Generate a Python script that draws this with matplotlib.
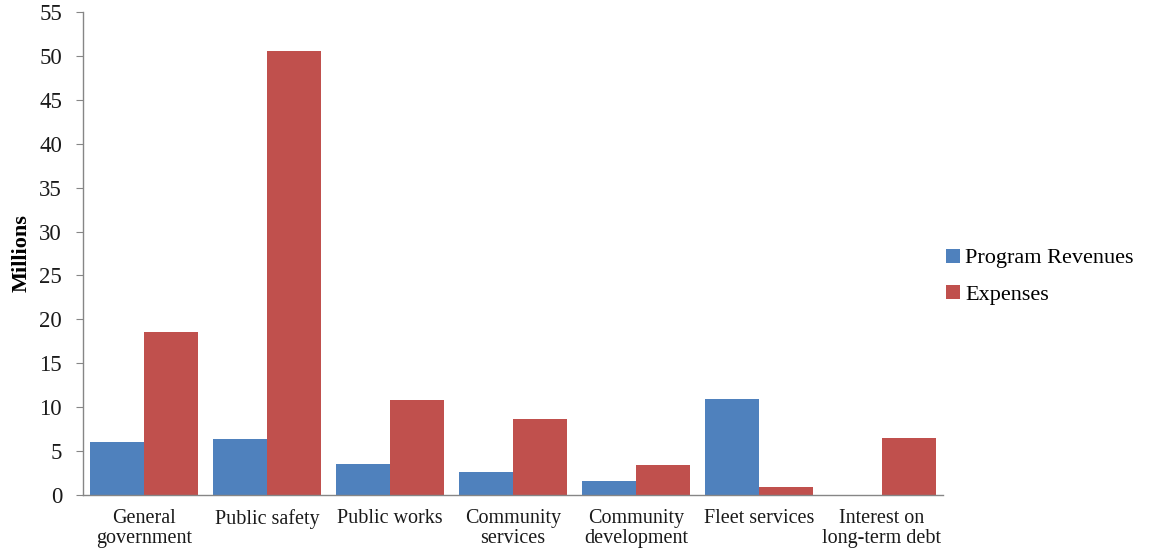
import numpy as np
import matplotlib.pyplot as plt

categories = ["General\ngovernment", "Public safety", "Public works", "Community\nservices",
              "Community\ndevelopment", "Fleet services", "Interest on\nlong-term debt"]
program_revenues = [6.0, 6.35, 3.55, 2.6, 1.6, 10.9, 0.0]
expenses = [18.6, 50.6, 10.8, 8.65, 3.4, 0.9, 6.45]

plt.rcParams['font.family'] = ['Liberation Serif', 'DejaVu Serif']

fig = plt.figure(figsize=(11.49, 5.48), dpi=100)
ax = fig.add_axes([0.0722, 0.0967, 0.7485, 0.8814])

x = np.arange(len(categories))
w = 0.44
ax.bar(x - w / 2, program_revenues, w, color="#4F81BD", label="Program Revenues")
ax.bar(x + w / 2, expenses, w, color="#C0504D", label="Expenses")

ax.set_xlim(-0.5, len(categories) - 0.5)
ax.set_ylim(0, 55)
ax.set_yticks(range(0, 56, 5))
ax.set_xticks(x)
ax.set_xticklabels(categories, fontsize=14.5, color="#1a1a1a", linespacing=1.05)
ax.tick_params(axis='x', length=0, pad=10)
ax.tick_params(axis='y', labelsize=16.5, length=5, color="#868686", labelcolor="#1a1a1a", pad=10)

for s in ["top", "right"]:
    ax.spines[s].set_visible(False)
for s in ["left", "bottom"]:
    ax.spines[s].set_color("#868686")
    ax.spines[s].set_linewidth(1.0)

ax.set_ylabel("Millions", fontsize=16, fontweight="bold")
ax.yaxis.set_label_coords(-0.06, 0.5)

fig.legend(loc="center left", bbox_to_anchor=(0.81, 0.495), frameon=False,
           fontsize=16, handlelength=0.6, handleheight=0.6, handletextpad=0.25,
           labelspacing=0.75, borderpad=0.2)

fig.savefig("out.png", dpi=100)
